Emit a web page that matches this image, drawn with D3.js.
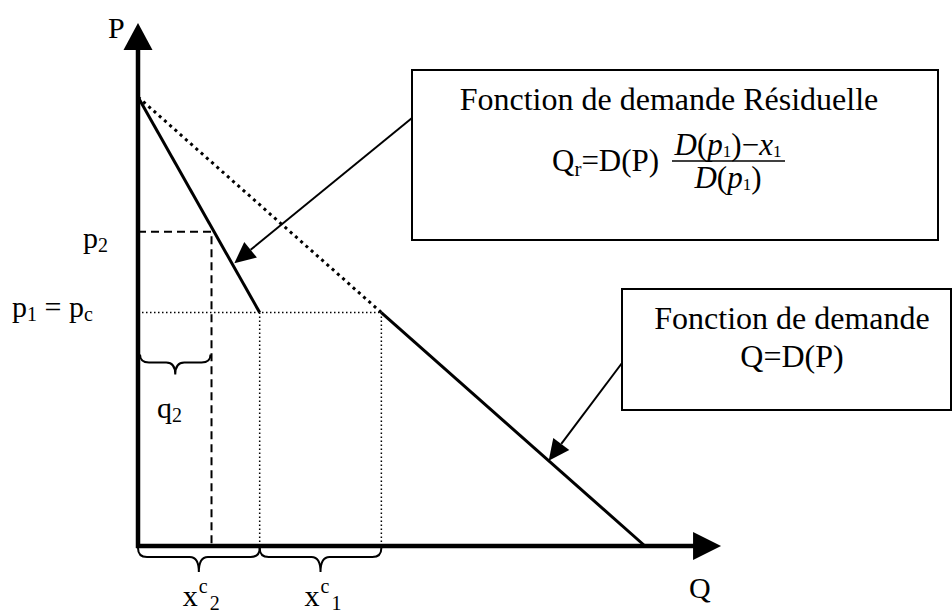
<!DOCTYPE html>
<html>
<head>
<meta charset="utf-8">
<script src="https://cdn.jsdelivr.net/npm/d3@7"></script>
<style>
	body { margin: 0; background: #fff; }
	svg { display: block; }
	text { font-family: 'Liberation Serif', 'Times New Roman', serif; fill: #000; }
</style>
</head>
<body>
<svg width="952" height="613"></svg>
<script>
// demand Q = D(P) (Q and P in arbitrary units)
const demandQ = [0, 48, 100];
const demandP = [100, 52, 0];
// residual demand, from the P intercept down to p1
const residualQ = [0, 24];
const residualP = [100, 52];
// price levels and quantities
const p1 = 52;
const p2 = 70;
const q2 = 14.5;
const x2c = 24;
const x1c = 48;
// axis extents
const Q_MAX = 115;
const P_MAX = 116.5;
// where the annotation arrows touch the lines [Q, P]
const arrowTips = [[19, 63], [81, 19]];

const $svg = d3.select('svg');

const x = d3.scaleLinear().domain([0, 100]).range([138, 645]);
const y = d3.scaleLinear().domain([0, 100]).range([546, 97]);

const line = d3.line().x(d => x(d[0])).y(d => y(d[1]));

function arrowHead(tip, from, len, half) {
	const dx = tip[0] - from[0];
	const dy = tip[1] - from[1];
	const d = Math.hypot(dx, dy);
	const ux = dx / d;
	const uy = dy / d;
	const bx = tip[0] - ux * len;
	const by = tip[1] - uy * len;
	return [tip, [bx - uy * half, by + ux * half], [bx + uy * half, by - ux * half]];
}

function brace(x1, x2, y0, y1, tip) {
	const xm = (x1 + x2) / 2;
	const r = 9;
	return `M${x1},${y0} Q${x1},${y1} ${x1 + r},${y1} L${xm - r},${y1} Q${xm},${y1} ${xm},${tip}`
		+ ` Q${xm},${y1} ${xm + r},${y1} L${x2 - r},${y1} Q${x2},${y1} ${x2},${y0}`;
}

// guide lines
const $guides = $svg.append('g');

$guides.append('path')
	.attr('d', line([[0, p2], [q2, p2], [q2, 0]]))
	.attr('fill', 'none')
	.attr('stroke', '#000')
	.attr('stroke-width', 2)
	.attr('stroke-dasharray', '8 5');

$guides.append('path')
	.attr('d', line([[0, p1], [x1c, p1]]))
	.attr('fill', 'none')
	.attr('stroke', '#000')
	.attr('stroke-width', 1.5)
	.attr('stroke-dasharray', '1.5 2.5');

$guides.selectAll('.vdot')
	.data([x2c, x1c])
	.enter()
	.append('path')
	.attr('class', 'vdot')
	.attr('d', d => line([[d, p1], [d, 0]]))
	.attr('fill', 'none')
	.attr('stroke', '#000')
	.attr('stroke-width', 1.5)
	.attr('stroke-dasharray', '1.5 2.5');

// demand curves
const demand = demandQ.map((q, i) => [q, demandP[i]]);
const residual = residualQ.map((q, i) => [q, residualP[i]]);

$svg.append('path')
	.attr('d', line(demand.slice(0, 2)))
	.attr('fill', 'none')
	.attr('stroke', '#000')
	.attr('stroke-width', 3)
	.attr('stroke-dasharray', '3 4');

$svg.append('path')
	.attr('d', line(demand.slice(1)))
	.attr('fill', 'none')
	.attr('stroke', '#000')
	.attr('stroke-width', 3);

$svg.append('path')
	.attr('d', line(residual))
	.attr('fill', 'none')
	.attr('stroke', '#000')
	.attr('stroke-width', 3);

// axes
$svg.append('line')
	.attr('x1', x(0)).attr('y1', y(0) + 2)
	.attr('x2', x(0)).attr('y2', y(P_MAX) + 20)
	.attr('stroke', '#000')
	.attr('stroke-width', 4.5);

$svg.append('line')
	.attr('x1', x(0) - 2).attr('y1', y(0))
	.attr('x2', x(Q_MAX) - 20).attr('y2', y(0))
	.attr('stroke', '#000')
	.attr('stroke-width', 4.5);

$svg.append('polygon')
	.attr('points', [[x(0), y(P_MAX)], [x(0) - 14.5, y(P_MAX) + 27], [x(0) + 14.5, y(P_MAX) + 27]].join(' '))
	.attr('fill', '#000');

$svg.append('polygon')
	.attr('points', [[x(Q_MAX), y(0)], [x(Q_MAX) - 28, y(0) - 14], [x(Q_MAX) - 28, y(0) + 14]].join(' '))
	.attr('fill', '#000');

// braces
const braceStyle = s => s.attr('fill', 'none').attr('stroke', '#000').attr('stroke-width', 2);

$svg.append('path')
	.attr('d', brace(x(0) + 2, x(q2) - 1, y(p1) + 42, y(p1) + 50, y(p1) + 62))
	.call(braceStyle);

$svg.selectAll('.qbrace')
	.data([[0, x2c], [x2c, x1c]])
	.enter()
	.append('path')
	.attr('class', 'qbrace')
	.attr('d', d => brace(x(d[0]), x(d[1]), y(0) + 2, y(0) + 11, y(0) + 26))
	.call(braceStyle);

// labels
function label(xp, yp, parts, size) {
	const $t = $svg.append('text')
		.attr('x', xp)
		.attr('y', yp)
		.attr('font-size', size);
	parts.forEach(p => {
		const $s = $t.append('tspan').text(p.t);
		if (p.size) $s.attr('font-size', p.size);
		if (p.dy) $s.attr('dy', p.dy);
		if (p.dx) $s.attr('dx', p.dx);
		if (p.italic) $s.attr('font-style', 'italic');
	});
	return $t;
}

label(108, 38, [{ t: 'P' }], 30);
label(689, 598, [{ t: 'Q' }], 30);
label(83, y(p2) + 16, [{ t: 'p' }, { t: '2', size: 20, dy: 4 }], 30);
label(12, y(p1) + 4, [
	{ t: 'p' }, { t: '1', size: 20, dy: 4 },
	{ t: ' = p', dy: -4 }, { t: 'c', size: 20, dy: 4 }
], 30);
label(157, 418, [{ t: 'q' }, { t: '2', size: 20, dy: 4 }], 30);

[[0, x2c, '2'], [x2c, x1c, '1']].forEach(d => {
	label((x(d[0]) + x(d[1])) / 2 - 16, 606, [
		{ t: 'x' }, { t: 'c', size: 20, dy: -13, dx: 1 }, { t: d[2], size: 20, dy: 17, dx: 2 }
	], 30);
});

// annotation boxes
const boxes = [
	{ x0: 412, y0: 70, x1: 938, y1: 240 },
	{ x0: 622, y0: 289, x1: 951, y1: 410 }
];

$svg.selectAll('.box')
	.data(boxes)
	.enter()
	.append('rect')
	.attr('class', 'box')
	.attr('x', d => d.x0)
	.attr('y', d => d.y0)
	.attr('width', d => d.x1 - d.x0)
	.attr('height', d => d.y1 - d.y0)
	.attr('fill', '#fff')
	.attr('stroke', '#000')
	.attr('stroke-width', 2);

$svg.append('text')
	.attr('x', 669).attr('y', 110)
	.attr('font-size', 32)
	.attr('text-anchor', 'middle')
	.text('Fonction de demande Résiduelle');

label(552, 171, [
	{ t: 'Q' }, { t: 'r', size: 21, dy: 5 }, { t: '=D(P)', dy: -5 }
], 31);

label(728, 155, [
	{ t: 'D', italic: true }, { t: '(' }, { t: 'p', italic: true },
	{ t: '1', size: 17, dy: 2 }, { t: ')', dy: -2 }, { t: '−' },
	{ t: 'x', italic: true }, { t: '1', size: 17, dy: 2 }
], 31).attr('text-anchor', 'middle');

$svg.append('line')
	.attr('x1', 672).attr('x2', 785)
	.attr('y1', 161).attr('y2', 161)
	.attr('stroke', '#000')
	.attr('stroke-width', 1.5);

label(728, 188, [
	{ t: 'D', italic: true }, { t: '(' }, { t: 'p', italic: true },
	{ t: '1', size: 17, dy: 2 }, { t: ')', dy: -2 }
], 31).attr('text-anchor', 'middle');

$svg.append('text')
	.attr('x', 792).attr('y', 329)
	.attr('font-size', 32)
	.attr('text-anchor', 'middle')
	.text('Fonction de demande');

$svg.append('text')
	.attr('x', 792).attr('y', 367)
	.attr('font-size', 32)
	.attr('text-anchor', 'middle')
	.text('Q=D(P)');

// annotation arrows from the boxes
const tails = [[412, 118], [622, 363]];

tails.forEach((tail, i) => {
	const tip = [x(arrowTips[i][0]), y(arrowTips[i][1])];
	const head = arrowHead(tip, tail, 21, 10);
	const bx = (head[1][0] + head[2][0]) / 2;
	const by = (head[1][1] + head[2][1]) / 2;
	$svg.append('line')
		.attr('x1', tail[0]).attr('y1', tail[1])
		.attr('x2', bx).attr('y2', by)
		.attr('stroke', '#000')
		.attr('stroke-width', 2);
	$svg.append('polygon')
		.attr('points', head.join(' '))
		.attr('fill', '#000');
});
</script>
</body>
</html>
